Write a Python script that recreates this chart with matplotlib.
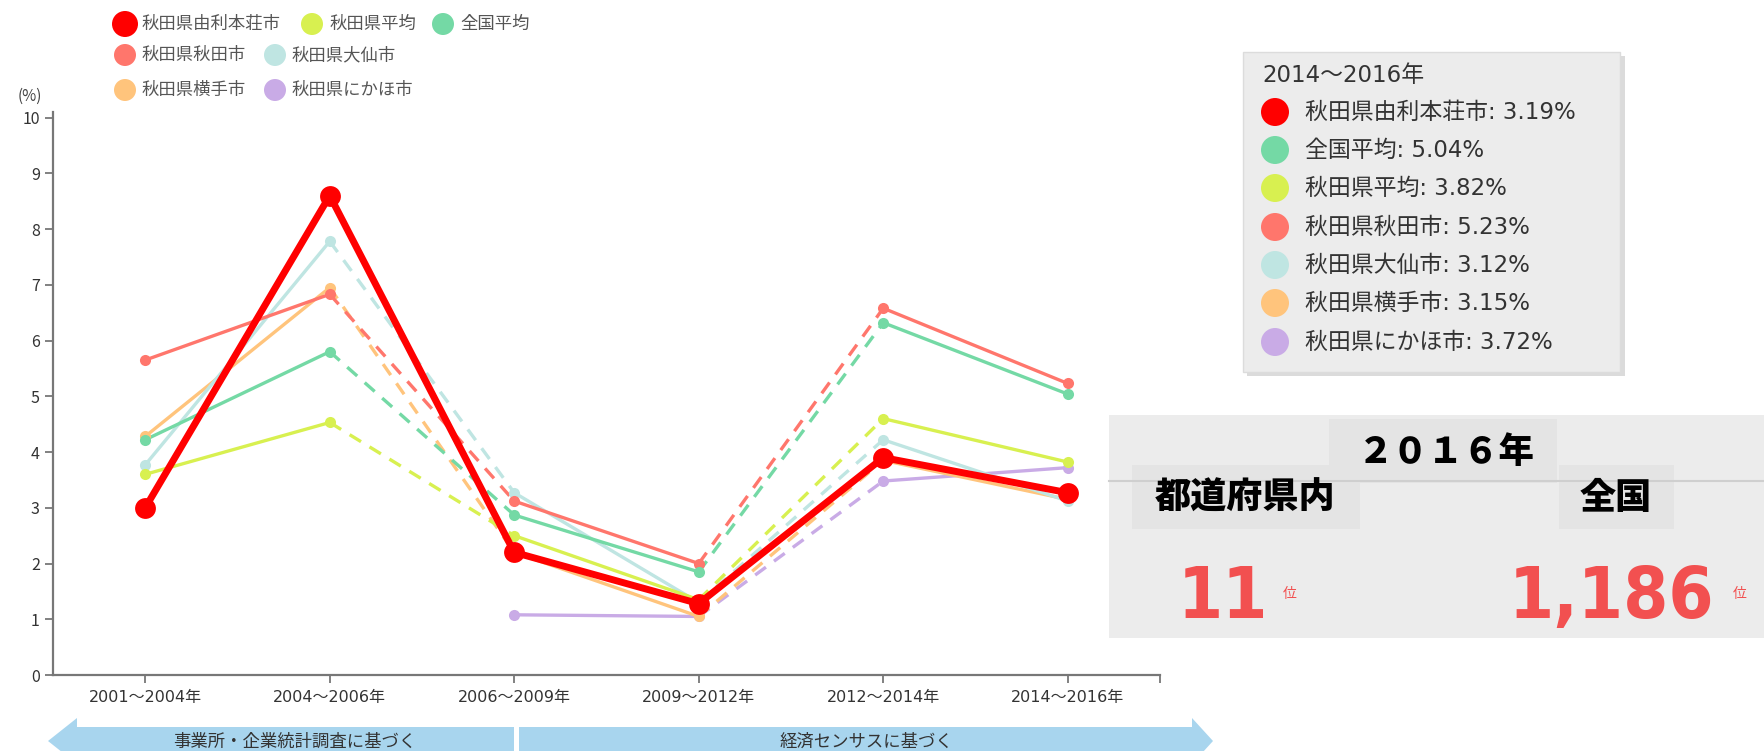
import matplotlib
matplotlib.use("Agg")
import matplotlib.pyplot as plt
from matplotlib.patches import Circle, Rectangle, Polygon

plt.rcParams['font.family'] = ['Noto Sans CJK JP', 'DejaVu Sans']

# ---- data ----
periods = ["2001～2004年", "2004～2006年", "2006～2009年",
           "2009～2012年", "2012～2014年", "2014～2016年"]

yurihonjo = [3.00, 8.60, 2.20, 1.28, 3.90, 3.27]
zenkoku = [4.22, 5.80, 2.87, 1.85, 6.32, 5.04]
akita_avg = [3.60, 4.53, 2.50, 1.35, 4.60, 3.82]
akita_city = [5.65, 6.83, 3.12, 2.00, 6.58, 5.23]
daisen = [3.77, 7.78, 3.27, 1.30, 4.22, 3.12]
yokote = [4.28, 6.95, 2.20, 1.05, 3.85, 3.15]
nikaho = [None, None, 1.08, 1.05, 3.48, 3.72]

names = ["秋田県由利本荘市", "全国平均", "秋田県平均", "秋田県秋田市",
         "秋田県大仙市", "秋田県横手市", "秋田県にかほ市"]
last_values = [3.19, 5.04, 3.82, 5.23, 3.12, 3.15, 3.72]
colors = ["#ff0000", "#74d9a5", "#d8f050", "#ff766c",
          "#bfe5e2", "#ffc47c", "#c9abe6"]

rank_year = "２０１６年"
rank_pref = "11"
rank_nation = "1,186"

# segments drawn dashed (survey changed between these periods)
dashed_segments = [1, 3]

fig = plt.figure(figsize=(17.64, 7.51), dpi=100)

# ---- main chart ----
ax = fig.add_axes([53 / 1764, 1 - 675 / 751, 1107 / 1764, 563 / 751])
series = [nikaho, yokote, daisen, akita_avg, akita_city, zenkoku, yurihonjo]
series_colors = [colors[6], colors[5], colors[4], colors[2], colors[3], colors[1], colors[0]]
x = list(range(len(periods)))

for s, c in zip(series, series_colors):
    main = c == "#ff0000"
    lw = 5.0 if main else 2.4
    for i in range(len(s) - 1):
        if s[i] is None or s[i + 1] is None:
            continue
        ls = (0, (4, 3)) if (i in dashed_segments and not main) else '-'
        ax.plot([x[i], x[i + 1]], [s[i], s[i + 1]], color=c, lw=lw,
                linestyle=ls, solid_capstyle='round', zorder=5 if main else 3)
    xs = [xi for xi, v in zip(x, s) if v is not None]
    vs = [v for v in s if v is not None]
    ax.plot(xs, vs, 'o', color=c, ms=15 if main else 8, mec='none',
            zorder=6 if main else 4)

ax.set_xlim(-0.5, 5.5)
ax.set_ylim(0, 10.1)
ax.set_yticks(range(0, 11))
ax.set_xticks(x)
ax.set_xticklabels(periods, family=['DejaVu Sans', 'Noto Sans CJK JP'])
for sp in ['top', 'right']:
    ax.spines[sp].set_visible(False)
for sp in ['left', 'bottom']:
    ax.spines[sp].set_color('#777777')
    ax.spines[sp].set_linewidth(1.6)
ax.tick_params(axis='both', colors='#777777', labelcolor='#333333',
               labelsize=11.5, length=6, width=1.3)
ax.tick_params(axis='x', pad=5)
ax.set_xticks([5.5], minor=True)
ax.tick_params(axis='x', which='minor', length=6, width=1.3, colors='#777777')

# ---- overlay in pixel coordinates ----
ov = fig.add_axes([0, 0, 1, 1], zorder=10)
ov.set_xlim(0, 1764)
ov.set_ylim(751, 0)
ov.axis('off')
ov.patch.set_alpha(0)

ov.text(18, 96, "(%)", fontsize=11, color='#444444', va='center')

# top legend
legend_items = [
    (names[0], colors[0], 125, 24, 13),
    (names[2], colors[2], 312, 24, 11),
    (names[1], colors[1], 443, 24, 11),
    (names[3], colors[3], 125, 55, 11),
    (names[4], colors[4], 275, 55, 11),
    (names[5], colors[5], 125, 90, 11),
    (names[6], colors[6], 275, 90, 11),
]
for label, c, cx, cy, r in legend_items:
    ov.add_patch(Circle((cx, cy), r, color=c, lw=0))
    ov.text(cx + 17, cy, label, fontsize=12.5, color='#555555', va='center')

# tooltip box
tip_font = ['DejaVu Sans', 'Noto Sans CJK JP']
ov.add_patch(Rectangle((1247, 56), 378, 320, color='#d2d2d2', lw=0, alpha=0.8))
ov.add_patch(Rectangle((1243, 52), 377, 320, facecolor='#ececec',
                       edgecolor='#dcdcdc', lw=1))
ov.text(1262, 76, "2014～2016年", fontsize=16.5, color='#333333', va='center',
        family=tip_font)
ty = [112, 150, 188, 227, 265, 303, 342]
for label, v, c, yy in zip(names, last_values, colors, ty):
    ov.add_patch(Circle((1275, yy), 14, color=c, lw=0))
    ov.text(1305, yy, f"{label}: {v:.2f}%", fontsize=16.5, color='#333333',
            va='center', family=tip_font)

# ranking panel
ov.add_patch(Rectangle((1109, 415), 700, 223, color='#ececec', lw=0))
ov.plot([1109, 1764], [481, 481], color='#cfcfcf', lw=1.5)
ov.add_patch(Rectangle((1329, 419), 228, 64, color='#e4e4e4', lw=0))
ov.add_patch(Rectangle((1132, 465), 228, 64, color='#e4e4e4', lw=0))
ov.add_patch(Rectangle((1559, 465), 115, 64, color='#e4e4e4', lw=0))
ov.text(1446, 452, rank_year, fontsize=25.5, fontweight='heavy', color='black',
        ha='center', va='center')
ov.text(1245, 498, "都道府県内", fontsize=26, fontweight='heavy', color='black',
        ha='center', va='center')
ov.text(1616, 498, "全国", fontsize=26, fontweight='heavy', color='black',
        ha='center', va='center')
red_num = '#f25050'
num_font = dict(fontsize=52, fontweight='bold', color=red_num, ha='center',
                va='baseline', family='DejaVu Sans', fontstretch='condensed')
ov.text(1223, 618, rank_pref, **num_font)
ov.text(1290, 594, "位", fontsize=10, color=red_num, ha='center', va='center')
ov.text(1612, 618, rank_nation, **num_font)
ov.text(1740, 594, "位", fontsize=10, color=red_num, ha='center', va='center')

# bottom arrows
arrow_col = '#a8d5ee'
ov.add_patch(Polygon([(514, 727), (77, 727), (77, 718), (48, 741),
                      (77, 764), (514, 764)],
                     closed=True, color=arrow_col, lw=0))
ov.add_patch(Polygon([(519, 727), (1192, 727), (1192, 718), (1213, 741),
                      (1192, 764), (519, 764)],
                     closed=True, color=arrow_col, lw=0))
ov.text(295, 742, "事業所・企業統計調査に基づく", fontsize=12.5, color='#333333',
        ha='center', va='center')
ov.text(866, 742, "経済センサスに基づく", fontsize=12.5, color='#333333',
        ha='center', va='center')

fig.savefig("out.png", dpi=100)
